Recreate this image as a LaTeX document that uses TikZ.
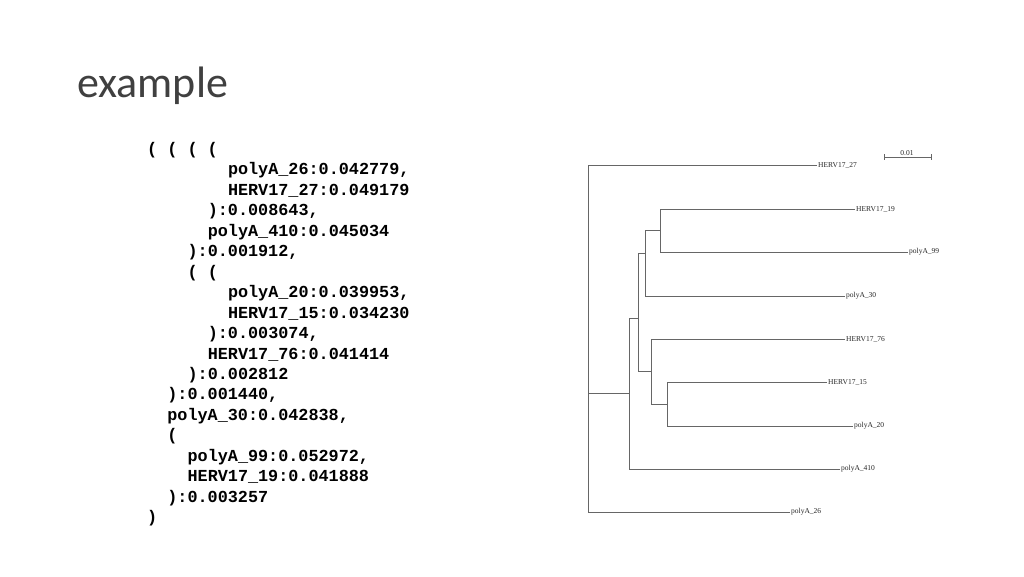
\documentclass[tikz,border=0pt]{standalone}
\usepackage{fontspec}
\setmainfont{Liberation Serif}
\newfontfamily\titlefont{Carlito}
\newfontfamily\codefont{Liberation Mono}
\begin{document}
\begin{tikzpicture}[x=1pt,y=-1pt,
  code/.style={anchor=west,inner sep=0pt,font=\codefont\bfseries\fontsize{16.8}{18}\selectfont},
  leaf/.style={anchor=west,inner sep=1pt,font=\fontsize{7.5}{8}\selectfont,text=black!85},
  br/.style={draw=black!60,line width=0.8pt}]
\useasboundingbox (0,0) rectangle (1024,576);
\node[anchor=west,inner sep=0pt,font=\titlefont\fontsize{44}{46}\selectfont,text=black!75] (title) at (77,86) {example};
\foreach \i/\c/\t in {0/0/{( ( ( (},1/8/{polyA\_26:0.042779,},2/8/{HERV17\_27:0.049179},3/6/{):0.008643,},4/6/{polyA\_410:0.045034},5/4/{):0.001912,},6/4/{( (},7/8/{polyA\_20:0.039953,},8/8/{HERV17\_15:0.034230},9/6/{):0.003074,},10/6/{HERV17\_76:0.041414},11/4/{):0.002812},12/2/{):0.001440,},13/2/{polyA\_30:0.042838,},14/2/{(},15/4/{polyA\_99:0.052972,},16/4/{HERV17\_19:0.041888},17/2/{):0.003257},18/0/{)}}
  \node[code] (l\i) at ({147+10.1*\c},{150+20.45*\i}) {\t};
% tree
\coordinate (r1) at (588,165); \coordinate (r2) at (588,512);
\draw[br] (r1) -- (r2);
\node[leaf] (h27) at (817,165) {HERV17\_27}; \draw[br] (r1) -- (h27.west);
\node[leaf] (p26) at (790,512) {polyA\_26}; \draw[br] (r2) -- (p26.west);
\coordinate (a0) at (588,393); \coordinate (a) at (629,393);
\draw[br] (a0) -- (a);
\coordinate (a1) at (629,318); \coordinate (a2) at (629,469);
\draw[br] (a1) -- (a2);
\node[leaf] (p410) at (840,469) {polyA\_410}; \draw[br] (a2) -- (p410.west);
\coordinate (b) at (638,318); \draw[br] (a1) -- (b);
\coordinate (b1) at (638,253); \coordinate (b2) at (638,371); \draw[br] (b1) -- (b2);
\coordinate (c) at (645,253); \draw[br] (b1) -- (c);
\coordinate (c1) at (645,230); \coordinate (c2) at (645,296); \draw[br] (c1) -- (c2);
\node[leaf] (p30) at (845,296) {polyA\_30}; \draw[br] (c2) -- (p30.west);
\coordinate (d) at (660,230); \draw[br] (c1) -- (d);
\coordinate (d1) at (660,209); \coordinate (d2) at (660,252); \draw[br] (d1) -- (d2);
\node[leaf] (h19) at (855,209) {HERV17\_19}; \draw[br] (d1) -- (h19.west);
\node[leaf] (p99) at (908,252) {polyA\_99}; \draw[br] (d2) -- (p99.west);
\coordinate (e) at (651,371); \draw[br] (b2) -- (e);
\coordinate (e1) at (651,339); \coordinate (e2) at (651,404); \draw[br] (e1) -- (e2);
\node[leaf] (h76) at (845,339) {HERV17\_76}; \draw[br] (e1) -- (h76.west);
\coordinate (f) at (667,404); \draw[br] (e2) -- (f);
\coordinate (f1) at (667,382); \coordinate (f2) at (667,426); \draw[br] (f1) -- (f2);
\node[leaf] (h15) at (827,382) {HERV17\_15}; \draw[br] (f1) -- (h15.west);
\node[leaf] (p20) at (853,426) {polyA\_20}; \draw[br] (f2) -- (p20.west);
% scale
\coordinate (s1) at (884,157); \coordinate (s2) at (931,157);
\draw[br] (s1) -- (s2); \draw[br] (884,154) -- (884,160); \draw[br] (931,154) -- (931,160);
\node[leaf,anchor=south] (sl) at (907,157) {0.01};
\end{tikzpicture}
\end{document}
